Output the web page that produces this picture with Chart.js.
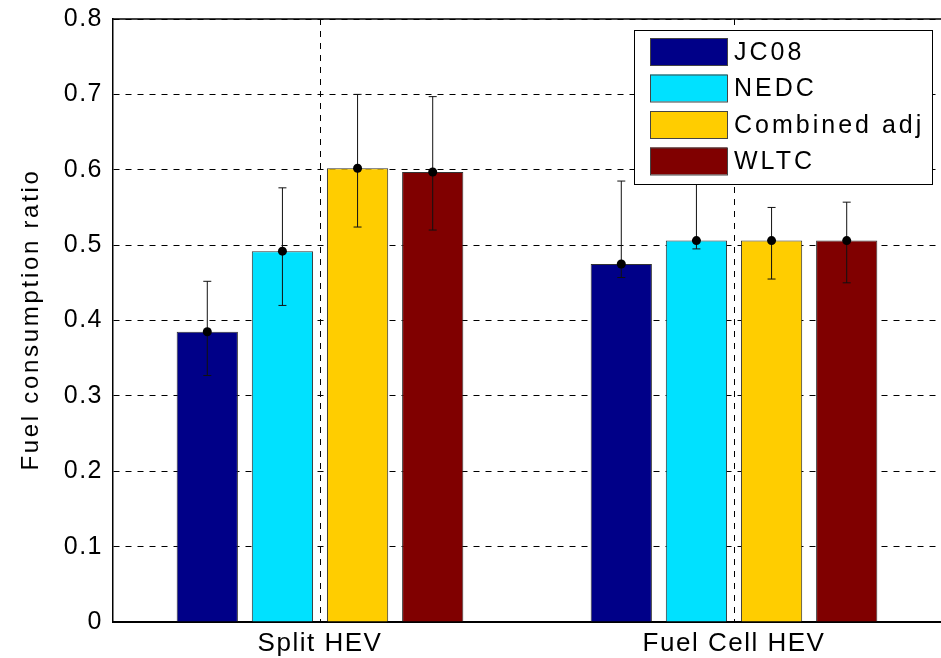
<!DOCTYPE html>
<html>
<head>
<meta charset="utf-8">
<script src="https://cdn.jsdelivr.net/npm/chart.js@4"></script>
<style>
    html, body { margin: 0; padding: 0; background: white; }
    #chart { display: block; }
</style>
</head>
<body>
<canvas id="chart" width="941" height="658"></canvas>
<script>
const categories = ["Split HEV", "Fuel Cell HEV"];
const seriesNames = ["JC08", "NEDC", "Combined adj", "WLTC"];
const seriesColors = ["#000088", "#00E1FF", "#FFCD00", "#800000"];
const yTitle = "Fuel consumption ratio";

// mean values
const jc08 = [0.385, 0.475];
const nedc = [0.492, 0.506];
const combinedAdj = [0.602, 0.506];
const wltc = [0.597, 0.506];

// error bars: lower / upper ends
const jc08Low = [0.327, 0.457];
const jc08High = [0.452, 0.585];
const nedcLow = [0.420, 0.495];
const nedcHigh = [0.576, 0.640];
const combinedLow = [0.524, 0.455];
const combinedHigh = [0.700, 0.550];
const wltcLow = [0.520, 0.450];
const wltcHigh = [0.697, 0.557];

const yTicks = [0, 0.1, 0.2, 0.3, 0.4, 0.5, 0.6, 0.7, 0.8];

const values = [jc08, nedc, combinedAdj, wltc];
const lows = [jc08Low, nedcLow, combinedLow, wltcLow];
const highs = [jc08High, nedcHigh, combinedHigh, wltcHigh];

const FONT = "'Liberation Sans', Arial, sans-serif";

/**
 * Espaciado de letras para los textos de los ejes (estilo MATLAB).
 */
const letterSpacing = {
    id: "letterSpacing",
    beforeDraw(chart) {
        chart.ctx.letterSpacing = "1.5px";
    }
};

/**
 * Dibuja las barras de error y el punto central de cada barra.
 */
const errorBars = {
    id: "errorBars",
    afterDatasetsDraw(chart) {
        const ctx = chart.ctx;
        const y = chart.scales.y;
        ctx.save();
        chart.data.datasets.forEach((ds, i) => {
            const meta = chart.getDatasetMeta(i);
            meta.data.forEach((bar, j) => {
                const x = bar.x;
                const top = y.getPixelForValue(highs[i][j]);
                const bottom = y.getPixelForValue(lows[i][j]);
                const mid = y.getPixelForValue(values[i][j]);
                ctx.strokeStyle = "#111";
                ctx.lineWidth = 1;
                ctx.beginPath();
                ctx.moveTo(x, top); ctx.lineTo(x, bottom);
                ctx.moveTo(x - 4, top); ctx.lineTo(x + 4, top);
                ctx.moveTo(x - 4, bottom); ctx.lineTo(x + 4, bottom);
                ctx.stroke();
                ctx.fillStyle = "black";
                ctx.beginPath();
                ctx.arc(x, mid, 4.5, 0, Math.PI * 2);
                ctx.fill();
            });
        });
        ctx.restore();
    }
};

/**
 * Marco superior, titulo del eje Y y leyenda dentro del area del grafico.
 */
const frameLegend = {
    id: "frameLegend",
    afterDraw(chart) {
        const ctx = chart.ctx;
        const area = chart.chartArea;
        ctx.save();
        ctx.strokeStyle = "black";
        ctx.lineWidth = 1.5;
        ctx.beginPath();
        ctx.moveTo(area.left, area.top);
        ctx.lineTo(area.right, area.top);
        ctx.stroke();

        // titulo del eje Y
        ctx.save();
        ctx.letterSpacing = "2.7px";
        ctx.font = "24px " + FONT;
        ctx.fillStyle = "black";
        ctx.textAlign = "center";
        ctx.textBaseline = "middle";
        ctx.translate(31, (area.top + area.bottom) / 2);
        ctx.rotate(-Math.PI / 2);
        ctx.fillText(yTitle, 1, 0);
        ctx.restore();

        const box = { x: 634, y: 30, w: 298, h: 154 };
        ctx.fillStyle = "white";
        ctx.fillRect(box.x, box.y, box.w, box.h);
        ctx.strokeStyle = "black";
        ctx.lineWidth = 1;
        ctx.strokeRect(box.x + 0.5, box.y + 0.5, box.w, box.h);

        ctx.letterSpacing = "3px";
        ctx.font = "25px " + FONT;
        ctx.textBaseline = "middle";
        seriesNames.forEach((name, i) => {
            const rowY = 38 + i * 36.5;
            ctx.fillStyle = seriesColors[i];
            ctx.fillRect(650, rowY, 77, 27);
            ctx.strokeStyle = "#444";
            ctx.strokeRect(650.5, rowY + 0.5, 77, 27);
            ctx.fillStyle = "black";
            ctx.fillText(name, 734, rowY + 15);
        });
        ctx.restore();
    }
};

new Chart(document.getElementById("chart"), {
    type: "bar",
    data: {
        labels: categories,
        datasets: seriesNames.map((name, i) => ({
            label: name,
            data: values[i],
            backgroundColor: seriesColors[i],
            borderColor: "#333",
            borderWidth: 1,
            categoryPercentage: 0.726,
            barPercentage: 0.815
        }))
    },
    options: {
        responsive: false,
        animation: false,
        layout: { padding: { top: 19, right: 0, left: 0, bottom: 0 } },
        plugins: {
            legend: { display: false },
            tooltip: { enabled: false }
        },
        scales: {
            x: {
                grid: { offset: false, color: "black", lineWidth: 1, drawTicks: false },
                border: { display: true, color: "black", width: 2, dash: [6, 6] },
                ticks: { color: "black", font: { size: 26, family: FONT }, padding: 6 },
                afterFit(scale) { scale.height = 36; }
            },
            y: {
                min: 0,
                max: 0.8,
                afterBuildTicks(scale) { scale.ticks = yTicks.map(v => ({ value: v })); },
                grid: { color: "black", lineWidth: 1, drawTicks: false },
                border: { display: true, color: "black", width: 1.5, dash: [6, 6] },
                ticks: {
                    color: "black",
                    padding: 10,
                    font: { size: 25, family: FONT, lineHeight: 0.6 },
                    callback: v => String(Math.round(v * 10) / 10)
                },
                afterFit(scale) { scale.width = 113; }
            }
        }
    },
    plugins: [letterSpacing, errorBars, frameLegend]
});
</script>
</body>
</html>
